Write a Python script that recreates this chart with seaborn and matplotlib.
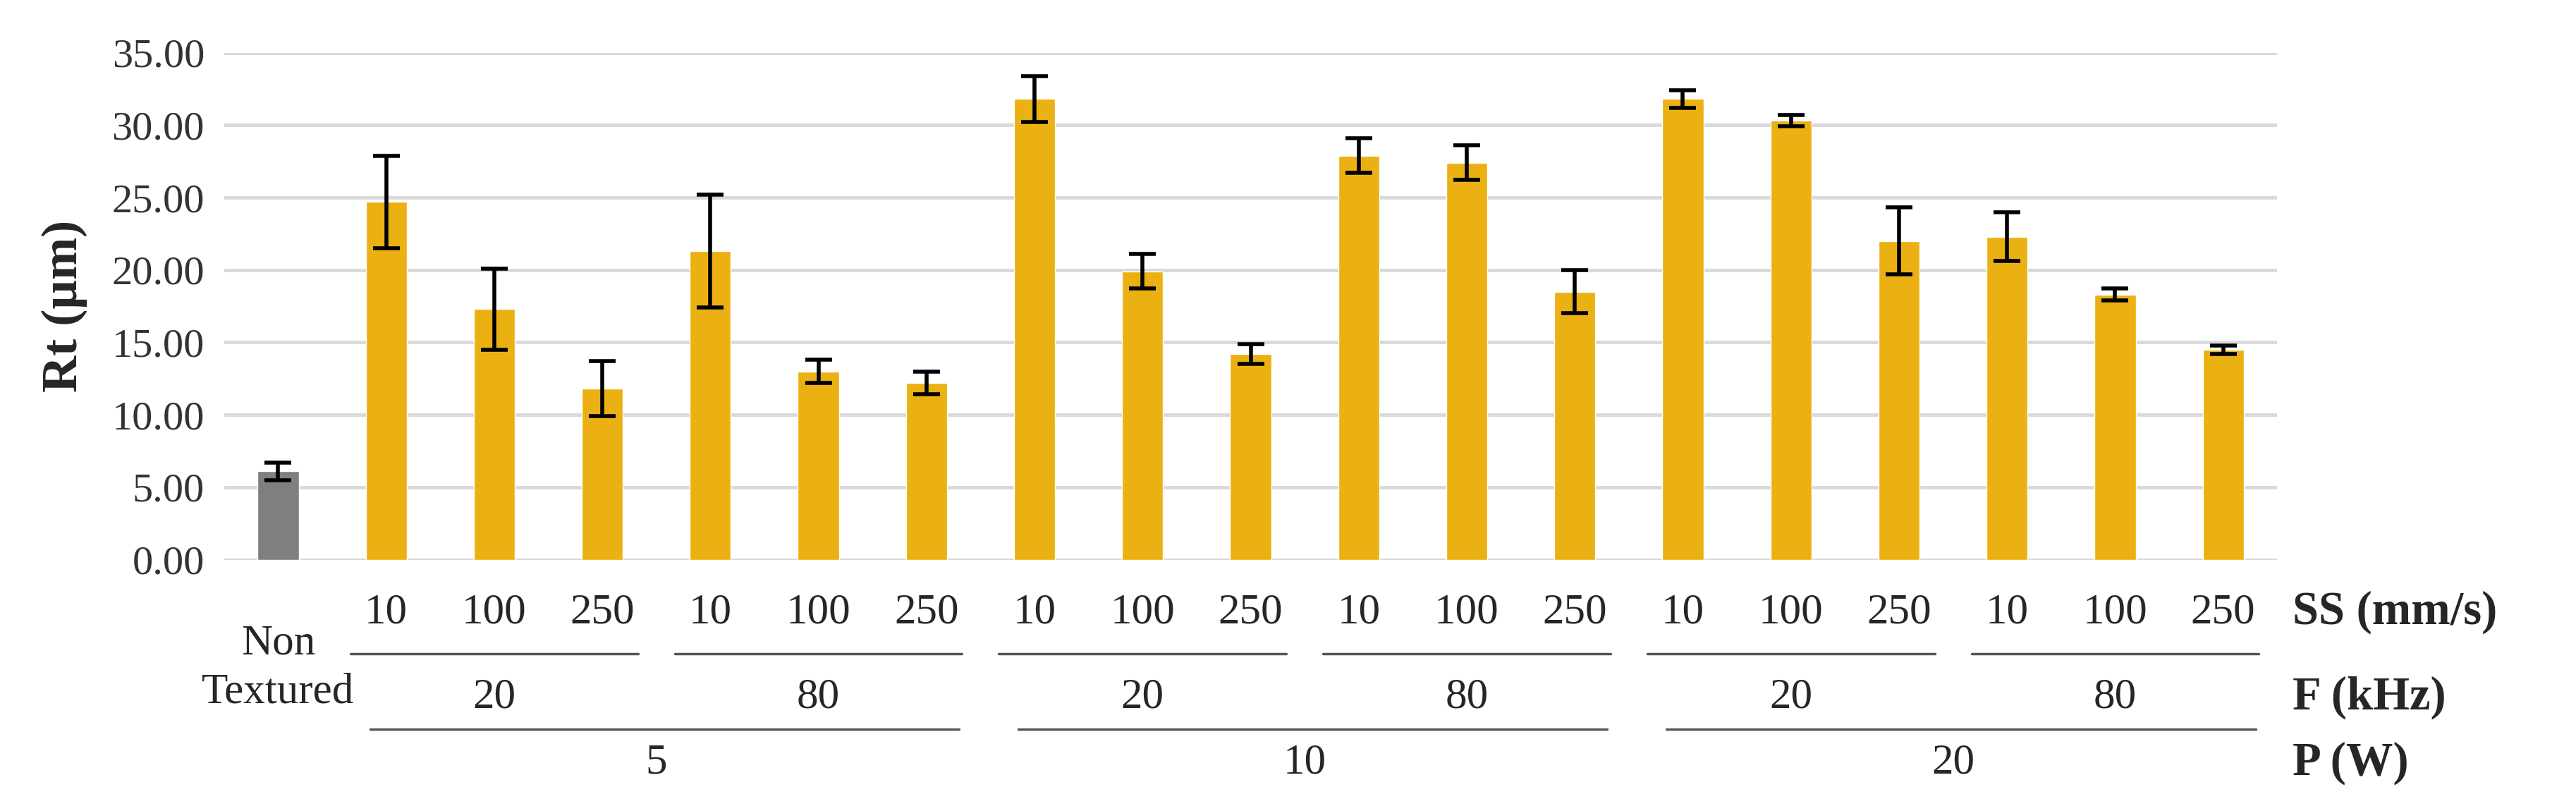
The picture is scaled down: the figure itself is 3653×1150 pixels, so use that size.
import matplotlib
matplotlib.use("Agg")
import matplotlib.pyplot as plt
import matplotlib.transforms as mtrans
import seaborn as sns
import pandas as pd
import numpy as np

ss_labels = ["10", "100", "250"]
f_labels = ["20", "80"]
p_labels = ["5", "10", "20"]
categories = ["NT"] + [f"P{p}_F{f}_SS{s}" for p in p_labels for f in f_labels for s in ss_labels]
values = [6.1, 24.7, 17.3, 11.8, 21.3, 13.0, 12.2, 31.8, 19.9, 14.2,
          27.9, 27.4, 18.5, 31.8, 30.3, 22.0, 22.3, 18.3, 14.5]
errors = [0.6, 3.2, 2.8, 1.9, 3.9, 0.8, 0.8, 1.6, 1.2, 0.7,
          1.2, 1.2, 1.5, 0.6, 0.4, 2.3, 1.7, 0.4, 0.3]
kind = ["non"] + ["tex"] * 18

sns.set_theme(style="white")
plt.rcParams['font.family'] = ['Liberation Serif', 'DejaVu Serif']

df = pd.DataFrame({"cat": categories, "val": values, "kind": kind})
fig = plt.figure(figsize=(36.53, 11.5), dpi=100)
ax = fig.add_axes([0.087, 0.31, 0.797, 0.625])
sns.barplot(data=df, x="cat", y="val", hue="kind", palette={"non": "#7f7f7f", "tex": "#EBB012"},
            saturation=1, dodge=False, width=0.38, legend=False, ax=ax, zorder=3)
x = np.arange(len(categories))
ax.errorbar(x, values, yerr=errors, fmt="none", ecolor="black", elinewidth=4, capsize=14, capthick=4, zorder=4)
ax.set_xlim(-0.5, len(categories) - 0.5)
ax.set_ylim(0, 35)
ax.set_yticks(np.arange(0, 35.1, 5))
ax.set_yticklabels([f"{v:.2f}" for v in np.arange(0, 35.1, 5)], fontsize=42, color="#333333")
ax.yaxis.grid(True, color="#d9d9d9", linewidth=3.5, zorder=0)
ax.set_axisbelow(True)
for s in ax.spines.values():
    s.set_visible(False)
ax.set_xticks([])
ax.set_xlabel("")
ax.set_ylabel("Rt (µm)", fontsize=52, fontweight="bold", labelpad=25)
ax.tick_params(axis="y", length=0, pad=20)

tr = mtrans.blended_transform_factory(ax.transData, fig.transFigure)
y_ss, y_l1, y_f, y_l2, y_p = 0.245, 0.194, 0.14, 0.101, 0.059
fs = 44
ax.text(0, 0.206, "Non", transform=tr, ha="center", va="center", fontsize=fs, clip_on=False)
ax.text(0, 0.146, "Textured", transform=tr, ha="center", va="center", fontsize=fs, clip_on=False)
idx = 1
for pi, p in enumerate(p_labels):
    pstart = idx
    for fi, f in enumerate(f_labels):
        fstart = idx
        for s in ss_labels:
            ax.text(idx, y_ss, s, transform=tr, ha="center", va="center", fontsize=fs, clip_on=False)
            idx += 1
        fend = idx - 1
        ax.plot([fstart - 0.33, fend + 0.33], [y_l1, y_l1], transform=tr, color="#555555", lw=2.5, clip_on=False)
        ax.text((fstart + fend) / 2, y_f, f, transform=tr, ha="center", va="center", fontsize=fs, clip_on=False)
    pend = idx - 1
    ax.plot([pstart - 0.15, pend + 0.3], [y_l2, y_l2], transform=tr, color="#555555", lw=2.5, clip_on=False)
    ax.text((pstart + pend) / 2, y_p, p, transform=tr, ha="center", va="center", fontsize=fs, clip_on=False)

for yy, lab in [(y_ss, "SS (mm/s)"), (y_f, "F (kHz)"), (y_p, "P (W)")]:
    fig.text(0.89, yy, lab, ha="left", va="center", fontsize=48, fontweight="bold")

fig.savefig("out.png", dpi=100, facecolor="white")
